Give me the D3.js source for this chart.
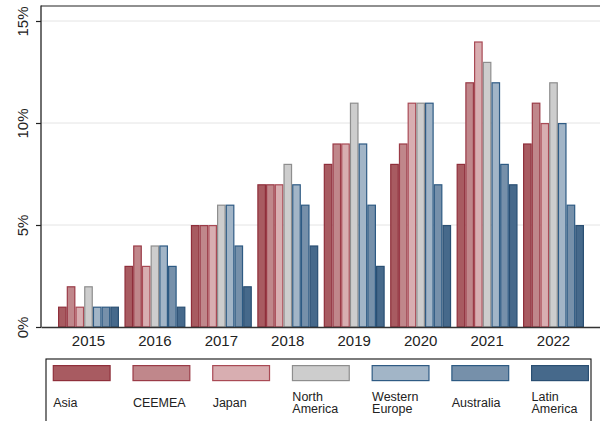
<!DOCTYPE html>
<html>
<head>
<meta charset="utf-8">
<script src="https://cdn.jsdelivr.net/npm/d3@7"></script>
<style>
  html, body { margin: 0; padding: 0; background: #fff; }
  svg { display: block; font-family: "Liberation Sans", Arial, Helvetica, sans-serif; }
</style>
</head>
<body>
<svg id="chart" width="600" height="421"></svg>
<script>
// Years on the x axis
const years = ["2015", "2016", "2017", "2018", "2019", "2020", "2021", "2022"];

// Regions, drawn left to right within each year
const regions = ["Asia", "CEEMEA", "Japan", "North America", "Western Europe", "Australia", "Latin America"];
const regionLabels = [["Asia"], ["CEEMEA"], ["Japan"], ["North", "America"], ["Western", "Europe"], ["Australia"], ["Latin", "America"]];

// Share (%) per region, one value per year
const asia          = [1, 3, 5, 7, 8, 8, 8, 9];
const ceemea        = [2, 4, 5, 7, 9, 9, 12, 11];
const japan         = [1, 3, 5, 7, 9, 11, 14, 10];
const northAmerica  = [2, 4, 6, 8, 11, 11, 13, 12];
const westernEurope = [1, 4, 6, 7, 9, 11, 12, 10];
const australia     = [1, 3, 4, 6, 6, 7, 8, 6];
const latinAmerica  = [1, 1, 2, 4, 3, 5, 7, 5];
const seriesValues = [asia, ceemea, japan, northAmerica, westernEurope, australia, latinAmerica];

// Y axis ticks
const yTicks = [0, 5, 10, 15];
const yTickLabels = ["0%", "5%", "10%", "15%"];

// Fill and outline per region
const fills   = ["#a85b61", "#c0878b", "#d8aeb1", "#cdcdcd", "#a2b5c7", "#7690aa", "#46698b"];
const strokes = ["#8f2f3b", "#9a3b47", "#a94a55", "#8e8e8e", "#2f5b84", "#2d5a83", "#2a4f73"];

const svg = d3.select("#chart");
const plot = { left: 41, right: 601, top: 6, bottom: 327 };

const x = d3.scaleBand()
  .domain(years)
  .range([plot.left, plot.right])
  .paddingInner(0.082)
  .paddingOuter(0.256);

const xInner = d3.scaleBand()
  .domain(regions)
  .range([0, x.bandwidth()]);

const y = d3.scaleLinear()
  .domain([0, 15])
  .range([plot.bottom, 21]);

// Gridlines
svg.append("g")
  .selectAll("line")
  .data(yTicks.filter(d => d > 0))
  .join("line")
  .attr("x1", plot.left)
  .attr("x2", plot.right)
  .attr("y1", d => y(d))
  .attr("y2", d => y(d))
  .attr("stroke", "#e4e4e4")
  .attr("stroke-width", 1);

// Bars
const groups = svg.append("g")
  .selectAll("g")
  .data(years)
  .join("g")
  .attr("transform", d => `translate(${x(d)},0)`);

groups.selectAll("rect")
  .data((yr, i) => regions.map((r, j) => ({ region: r, j, value: seriesValues[j][i] })))
  .join("rect")
  .attr("x", d => xInner(d.region) + 0.6)
  .attr("width", xInner.bandwidth() - 1.2)
  .attr("y", d => y(d.value) + 0.6)
  .attr("height", d => y(0) - y(d.value) - 0.6)
  .attr("fill", d => fills[d.j])
  .attr("stroke", d => strokes[d.j])
  .attr("stroke-width", 1.2);

// Frame: left axis, top line, baseline
svg.append("line")
  .attr("x1", plot.left).attr("x2", plot.right)
  .attr("y1", plot.top).attr("y2", plot.top)
  .attr("stroke", "#222").attr("stroke-width", 1.2);

// Y axis
const yAxis = d3.axisLeft(y)
  .tickValues(yTicks)
  .tickFormat((d, i) => yTickLabels[i])
  .tickSize(5)
  .tickPadding(0);

const yg = svg.append("g")
  .attr("transform", `translate(${plot.left},0)`)
  .call(yAxis);
yg.select(".domain").remove();
yg.selectAll(".tick line").attr("stroke", "#222").attr("stroke-width", 1.2);
yg.selectAll(".tick text")
  .attr("font-size", 15)
  .attr("fill", "#222")
  .attr("text-anchor", "middle")
  .attr("x", null)
  .attr("dy", null)
  .attr("transform", "translate(-13,0) rotate(-90)");

svg.append("line")
  .attr("x1", plot.left).attr("x2", plot.left)
  .attr("y1", plot.top - 0.6).attr("y2", plot.bottom + 0.6)
  .attr("stroke", "#222").attr("stroke-width", 1.3);

// X axis
const xAxis = d3.axisBottom(x).tickSize(0).tickPadding(0);
const xg = svg.append("g")
  .attr("transform", `translate(0,${plot.bottom})`)
  .call(xAxis);
xg.select(".domain")
  .attr("stroke", "#333")
  .attr("stroke-width", 1.3);
xg.selectAll(".tick text")
  .attr("font-size", 15)
  .attr("fill", "#222")
  .attr("dy", null)
  .attr("y", 19);

// Legend
const legend = svg.append("g");
legend.append("rect")
  .attr("x", 46).attr("y", 359)
  .attr("width", 545).attr("height", 80)
  .attr("fill", "#fff")
  .attr("stroke", "#111")
  .attr("stroke-width", 1.1);

const legendX = d3.scalePoint().domain(regions).range([52.7, 531]);

const items = legend.selectAll("g.item")
  .data(regions)
  .join("g")
  .attr("class", "item")
  .attr("transform", d => `translate(${legendX(d)},0)`);

items.append("rect")
  .attr("x", 0.6).attr("y", 365.6)
  .attr("width", 56.8).attr("height", 15)
  .attr("fill", (d, i) => fills[i])
  .attr("stroke", (d, i) => strokes[i])
  .attr("stroke-width", 1.2);

items.each(function (d, i) {
  const lines = regionLabels[i];
  const t = d3.select(this).append("text")
    .attr("font-size", 12.5)
    .attr("fill", "#222");
  const base = lines.length === 1 ? 407 : 400.5;
  lines.forEach((ln, k) => {
    t.append("tspan").attr("x", 0.5).attr("y", base + k * 12.8).text(ln);
  });
});
</script>
</body>
</html>
